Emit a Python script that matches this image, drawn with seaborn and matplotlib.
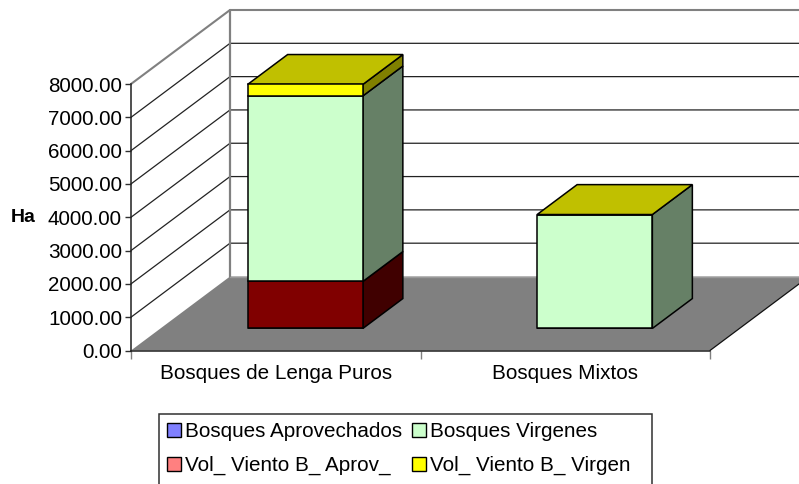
import numpy as np
import matplotlib
matplotlib.use("Agg")
import matplotlib.pyplot as plt
from matplotlib.patches import Patch, Polygon, Rectangle
from matplotlib.transforms import ScaledTranslation
import seaborn as sns

categories = ["Bosques de Lenga Puros", "Bosques Mixtos"]
bosques_aprovechados = [0, 0]
vol_viento_aprov = [1410, 0]
bosques_virgenes = [5570, 3420]
vol_viento_virgen = [345, 0]
series_names = ["Bosques Aprovechados", "Vol_ Viento B_ Aprov_", "Bosques Virgenes", "Vol_ Viento B_ Virgen"]
y_ticks = [0, 1000, 2000, 3000, 4000, 5000, 6000, 7000, 8000]

front_colors = ["#8080FF", "#800000", "#CCFFCC", "#FFFF00"]
side_colors = ["#404080", "#400000", "#668066", "#808000"]
legend_colors = ["#8080FF", "#FF8080", "#CCFFCC", "#FFFF00"]
top_color = "#C0C000"

W, H = 799, 484
FS = 14.85
sns.set_style("white")
plt.rcParams["font.family"] = ["Liberation Sans", "DejaVu Sans"]
fig = plt.figure(figsize=(W / 100, H / 100), dpi=100)
L, R, T, B = 131, 710, 84, 350.5
ax = fig.add_axes([L / W, 1 - B / H, (R - L) / W, (B - T) / H])

# depth projection: the floor runs back by fixed pixels, expressed in data units
YMAX = 8000
depth_x = 99 / (R - L) * 2.0
depth_y = 74 / (B - T) * YMAX
def proj(x, v, d):
    return (x + d * depth_x, v + d * depth_y)

X0, X1 = -0.5, 1.5
wall_z, floor_z, side_z, front_z = 1, 2, 4, 5

# floor
ax.add_patch(Polygon([proj(X0, 0, 0), proj(X0, 0, 1), proj(X1, 0, 1), proj(X1, 0, 0)],
                     closed=True, fc="#808080", ec="none", zorder=floor_z, clip_on=False))
# walls' grid
for v in y_ticks[1:]:
    edge = "#808080" if v == YMAX else "#222222"
    lw = 1.5 if v == YMAX else 0.9
    pts = [proj(X0, v, 0), proj(X0, v, 1), proj(X1, v, 1)]
    ax.plot(*zip(*pts), color=edge, lw=lw, zorder=wall_z, clip_on=False)
# back wall left edge, floor edges
ax.plot(*zip(proj(X0, 0, 1), proj(X0, YMAX, 1)), color="#808080", lw=1.6, zorder=wall_z, clip_on=False)
ax.plot(*zip(proj(X0, 0, 1), proj(X1, 0, 1)), color="#9a9a9a", lw=1.0, zorder=floor_z, clip_on=False)
ax.plot(*zip(proj(X1, 0, 0), proj(X1, 0, 1)), color="#111111", lw=0.9, zorder=floor_z, clip_on=False)

# stacked 3D bars
series = [bosques_aprovechados, vol_viento_aprov, bosques_virgenes, vol_viento_virgen]
BAR_W = 0.398
D0, D1 = 0.298, 0.702
bottoms = np.zeros(len(categories))
for k, vals in enumerate(series):
    vals = np.array(vals, dtype=float)
    base = bottoms + D0 * depth_y
    sns.barplot(x=categories, y=vals, bottom=base, width=BAR_W, color=front_colors[k], saturation=1,
                edgecolor="black", linewidth=1.1, errorbar=None, ax=ax, zorder=front_z, clip_on=False)
    for p in ax.containers[-1]:
        p.set_x(p.get_x() + D0 * depth_x)
    for i in range(len(categories)):
        xr = i + BAR_W / 2
        lo, hi = bottoms[i], bottoms[i] + vals[i]
        if vals[i] > 0:
            ax.add_patch(Polygon([proj(xr, lo, D0), proj(xr, lo, D1), proj(xr, hi, D1), proj(xr, hi, D0)],
                                 closed=True, fc=side_colors[k], ec="black", lw=1.1,
                                 zorder=side_z, clip_on=False))
    bottoms = bottoms + vals
for i in range(len(categories)):
    xl, xr = i - BAR_W / 2, i + BAR_W / 2
    h = bottoms[i]
    ax.add_patch(Polygon([proj(xl, h, D0), proj(xl, h, D1), proj(xr, h, D1), proj(xr, h, D0)],
                         closed=True, fc=top_color, ec="black", lw=1.1, zorder=side_z, clip_on=False))

# axes
ax.set_xlim(X0, X1)
ax.set_ylim(0, YMAX)
ax.patch.set_visible(False)
ax.grid(False)
for s in ["top", "right"]:
    ax.spines[s].set_visible(False)
for s in ["left", "bottom"]:
    ax.spines[s].set_color("#202020")
    ax.spines[s].set_linewidth(1.1)
    ax.spines[s].set_zorder(3)
ax.set_yticks(y_ticks)
ax.set_yticklabels([f"{v:.2f}" for v in y_ticks], fontsize=FS, color="black")
shift = ScaledTranslation(0, 1.2 / 100, fig.dpi_scale_trans)
for t in ax.get_yticklabels():
    t.set_transform(t.get_transform() + shift)
ax.set_xticks([-0.5, 0.5, 1.5])
ax.set_xticklabels([])
ax.set_xticks([0, 1], labels=categories, minor=True)
ax.tick_params(axis="y", which="major", length=4, width=1, color="#303030", pad=2.5, left=True)
ax.tick_params(axis="x", which="major", length=6, width=1, color="#808080", bottom=True)
ax.tick_params(axis="x", which="minor", length=0, labelsize=FS, pad=10, labelcolor="black")
ax.set_ylabel("")
fig.text(23.5 / W, 1 - 217 / H, "Ha", fontsize=14, fontweight="bold", ha="center", va="center", color="black")

# legend
handles = [Patch(fc=legend_colors[k], ec="black", lw=1.0, label=series_names[k]) for k in range(4)]
fig.add_artist(Rectangle((159 / W, 1 - 490 / H), (652 - 159) / W, (490 - 414) / H, transform=fig.transFigure,
                         fc="white", ec="#303030", lw=1.1))
leg = fig.legend(handles=handles, ncols=2, loc="upper left", bbox_to_anchor=(167 / W, 1 - 422 / H),
                 bbox_transform=fig.transFigure, borderaxespad=0, borderpad=0, frameon=False,
                 fontsize=FS, handlelength=0.66, handleheight=0.66,
                 handletextpad=0.22, columnspacing=0.47, labelspacing=0.72)
for t in leg.get_texts():
    t.set_color("black")

fig.savefig("out.png", dpi=100, facecolor="white")
